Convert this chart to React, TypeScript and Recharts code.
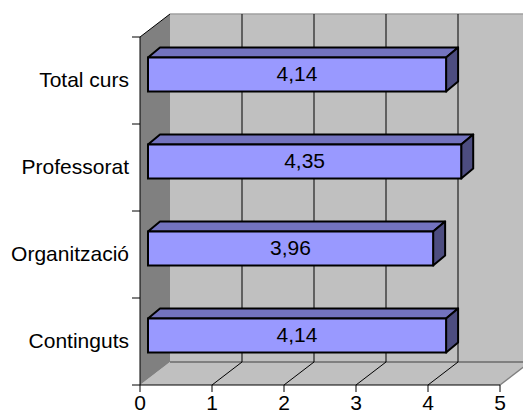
import React from 'react';
import { BarChart, Bar, XAxis, YAxis, CartesianGrid } from 'recharts';

const categories = ['Total curs', 'Professorat', 'Organització', 'Continguts'];
const scores = [4.14, 4.35, 3.96, 4.14];
const xTicks = [0, 1, 2, 3, 4, 5];

const data = categories.map((name, i) => ({ name, value: scores[i] }));

const FONT = '"Liberation Sans", Arial, sans-serif';
const DEPTH_X = 30;
const DEPTH_Y = -23;
const BAR_SHIFT_X = 8;
const BAR_SHIFT_Y = -6.5;
const BAR_DX = 12;
const BAR_DY = -10;

const fmt = (v: number) => v.toFixed(2).replace('.', ',');

const gridLine = (p: any) => {
  const pts: number[] = Array.isArray(p.verticalPoints) && p.verticalPoints.length ? p.verticalPoints : [p.x1];
  const left = typeof p.x === 'number' ? p.x : Math.min(...pts);
  const right = typeof p.width === 'number' ? left + p.width : Math.max(...pts);
  const top = Math.min(p.y1, p.y2);
  const bottom = Math.max(p.y1, p.y2);
  const bx = DEPTH_X;
  const by = DEPTH_Y;
  const xv = p.x1;
  const interior = xv > left + 1 && xv < right - 1;
  return (
    <g key={`vg-${p.index}`}>
      {p.index === 0 && (
        <g>
          <polygon
            points={`${left + bx},${top + by} ${right + bx},${top + by} ${right + bx},${bottom + by} ${left + bx},${bottom + by}`}
            fill="#C0C0C0"
          />
          <polygon
            points={`${left},${bottom} ${left + bx},${bottom + by} ${right + bx},${bottom + by} ${right},${bottom}`}
            fill="#C0C0C0"
          />
          <polygon
            points={`${left},${top} ${left + bx},${top + by} ${left + bx},${bottom + by} ${left},${bottom}`}
            fill="#808080"
          />
          <line x1={left + bx} y1={top + by} x2={right + bx} y2={top + by} stroke="#A0A0A0" strokeWidth={1.5} />
          <line x1={left + bx} y1={bottom + by} x2={right + bx} y2={bottom + by} stroke="#808080" strokeWidth={2} />
          <line x1={right} y1={bottom} x2={right + bx} y2={bottom + by} stroke="#808080" strokeWidth={1.5} />
          <line x1={left} y1={top} x2={left + bx} y2={top + by} stroke="#000" strokeWidth={1} />
        </g>
      )}
      {interior && (
        <g>
          <line x1={xv + bx} y1={top + by} x2={xv + bx} y2={bottom + by} stroke="#000" strokeWidth={1} />
          <line x1={xv} y1={bottom} x2={xv + bx} y2={bottom + by} stroke="#000" strokeWidth={1} />
        </g>
      )}
    </g>
  );
};

const CatTick = (p: any) => {
  const { x, y, payload, index } = p;
  const off = payload && typeof payload.offset === 'number' && payload.offset > 0 ? payload.offset : 43.5;
  const lx1 = x + 3;
  const lx2 = x + 11;
  const last = index === categories.length - 1;
  return (
    <g>
      <line x1={lx1} y1={y - off} x2={lx2} y2={y - off} stroke="#000" />
      {last && <line x1={lx1} y1={y + off} x2={lx2} y2={y + off} stroke="#000" />}
      <text x={x} y={y} dy="0.3em" textAnchor="end" fill="#000" fontSize={21} fontFamily={FONT}>
        {payload.value}
      </text>
    </g>
  );
};

const Bar3D = (p: any) => {
  const { x, y, width, height, payload } = p;
  const fx = x + BAR_SHIFT_X;
  const fy = y + BAR_SHIFT_Y;
  const w = width;
  const h = height;
  const top = `${fx},${fy} ${fx + BAR_DX},${fy + BAR_DY} ${fx + w + BAR_DX},${fy + BAR_DY} ${fx + w},${fy}`;
  const side = `${fx + w},${fy} ${fx + w + BAR_DX},${fy + BAR_DY} ${fx + w + BAR_DX},${fy + h + BAR_DY} ${fx + w},${fy + h}`;
  return (
    <g>
      <polygon points={top} fill="#7373BF" stroke="#000" strokeWidth={2} strokeLinejoin="round" />
      <polygon points={side} fill="#4D4D80" stroke="#000" strokeWidth={2} strokeLinejoin="round" />
      <rect x={fx} y={fy} width={w} height={h} fill="#9999FF" stroke="#000" strokeWidth={2} />
      <text x={fx + w / 2} y={fy + h / 2 + 6.5} textAnchor="middle" fill="#000" fontSize={21} fontFamily={FONT}>
        {fmt(payload.value)}
      </text>
    </g>
  );
};

export default function App() {
  return (
    <div style={{ position: 'absolute', left: 0, top: 0, width: 523, height: 419, background: '#fff', overflow: 'hidden' }}>
      <BarChart
        width={523}
        height={419}
        data={data}
        layout="vertical"
        margin={{ top: 37, right: 23, bottom: 0, left: 0 }}
        style={{ fontFamily: FONT }}
      >
        <CartesianGrid horizontal={false} vertical={gridLine} />
        <XAxis
          type="number"
          domain={[0, 5]}
          ticks={xTicks}
          interval={0}
          height={34}
          tickSize={7}
          tickMargin={3}
          axisLine={{ stroke: '#000' }}
          tickLine={{ stroke: '#000' }}
          tick={{ fill: '#000', fontSize: 21, fontFamily: FONT }}
          allowDataOverflow
        />
        <YAxis
          type="category"
          dataKey="name"
          width={140}
          tickSize={8}
          tickMargin={3}
          interval={0}
          axisLine={{ stroke: '#000' }}
          tickLine={{ stroke: 'none' }}
          tick={<CatTick />}
        />
        <Bar dataKey="value" barSize={34} shape={Bar3D} isAnimationActive={false} />
      </BarChart>
    </div>
  );
}
